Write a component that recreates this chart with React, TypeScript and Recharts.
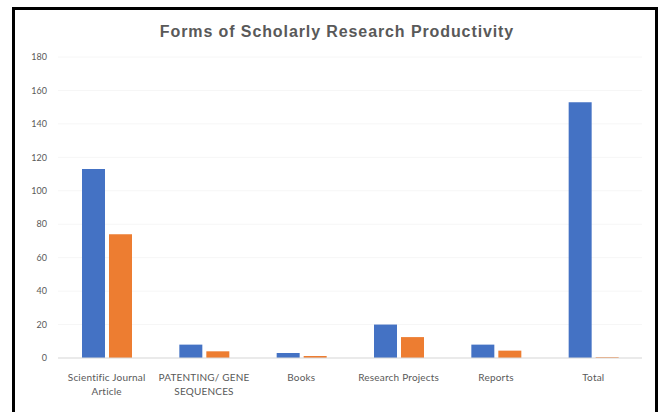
import React from "react";
import { BarChart, Bar, XAxis, YAxis, CartesianGrid } from "recharts";

const categories = [
  "Scientific Journal Article",
  "PATENTING/ GENE SEQUENCES",
  "Books",
  "Research Projects",
  "Reports",
  "Total",
];
const seriesA = [113, 8, 3, 20, 8, 153];
const seriesB = [74, 4, 1.2, 12.5, 4.4, 0.5];
const yTicks = [0, 20, 40, 60, 80, 100, 120, 140, 160, 180];
const title = "Forms of Scholarly Research Productivity";

const data = categories.map((c, i) => ({ name: c, a: seriesA[i], b: seriesB[i] }));

function wrap(s: string, max: number): string[] {
  const words = s.split(" ");
  const lines: string[] = [];
  let cur = "";
  for (const w of words) {
    const next = cur ? cur + " " + w : w;
    if (next.length > max && cur) {
      lines.push(cur);
      cur = w;
    } else cur = next;
  }
  if (cur) lines.push(cur);
  return lines;
}

const XTick = (props: any) => {
  const { x, y, payload } = props;
  const lines = wrap(String(payload.value), 18);
  return (
    <g>
      {lines.map((l, i) => (
        <text
          key={i}
          x={x}
          y={y + 15 + i * 13.5}
          textAnchor="middle"
          fill="#595959"
          fontSize={10}
          letterSpacing={0.2}
          fontFamily="Lato, 'Open Sans', sans-serif"
        >
          {l}
        </text>
      ))}
    </g>
  );
};

export default function App() {
  return (
    <div style={{ position: "absolute", left: 0, top: 0, width: 660, height: 412, background: "#fff" }}>
      <div
        style={{
          position: "absolute",
          left: 12,
          top: 7,
          width: 640,
          height: 402,
          borderLeft: "3px solid #000",
          borderTop: "3px solid #000",
          borderRight: "3px solid #000",
          borderBottom: "2px solid #a0a0a0",
        }}
      />
      <div
        style={{
          position: "absolute",
          left: 0,
          width: 674,
          top: 23,
          textAlign: "center",
          fontFamily: "'Liberation Sans', Arial, sans-serif",
          fontWeight: "bold",
          fontSize: 16,
          letterSpacing: 0.9,
          color: "#595959",
        }}
      >
        {title}
      </div>
      <div style={{ position: "absolute", left: 0, top: 0 }}>
        <BarChart
          width={660}
          height={412}
          data={data}
          margin={{ top: 57, right: 18, bottom: 24, left: 18 }}
          barGap={4}
          barSize={23}
        >
          <CartesianGrid vertical={false} stroke="#f6f6f6" />
          <XAxis
            dataKey="name"
            tick={<XTick />}
            tickLine={false}
            axisLine={{ stroke: "#d9d9d9" }}
            height={30}
            interval={0}
          />
          <YAxis
            domain={[0, 180]}
            ticks={yTicks}
            width={40}
            tickLine={false}
            axisLine={false}
            tickMargin={5}
            tick={{ fill: "#595959", fontSize: 9, fontFamily: "Lato, 'Open Sans', sans-serif" }}
          />
          <Bar dataKey="a" fill="#4472C4" isAnimationActive={false} />
          <Bar dataKey="b" fill="#ED7D31" isAnimationActive={false} />
        </BarChart>
      </div>
    </div>
  );
}
